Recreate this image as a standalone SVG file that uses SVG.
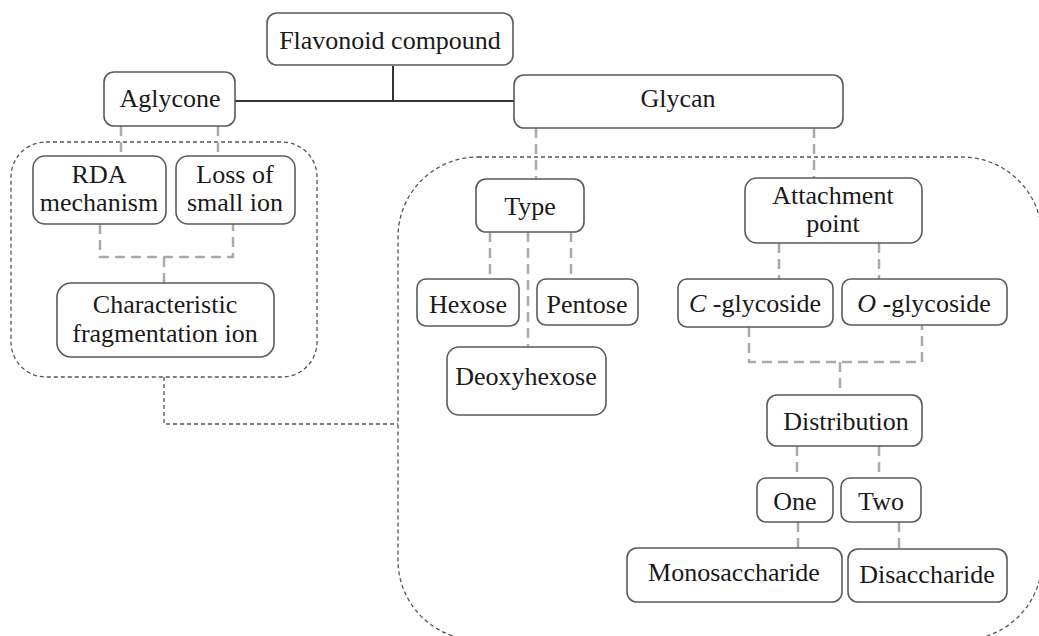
<svg xmlns="http://www.w3.org/2000/svg" width="1039" height="636" viewBox="0 0 1039 636">
<style>
  .box { fill: #fff; stroke: #5a5a5a; stroke-width: 1.6; }
  .t { font-family: "Liberation Serif", "Times New Roman", serif; font-size: 26px; fill: #1a1a1a; text-anchor: middle; }
  .region { fill: none; stroke: #555; stroke-width: 1.3; stroke-dasharray: 4 3; }
  .dash { fill: none; stroke: #aaa; stroke-width: 2.5; stroke-dasharray: 10 6; }
  .solid { fill: none; stroke: #333; stroke-width: 2; }
</style>
<rect width="1039" height="636" fill="#fff"/>
<g id="regions">
  <rect class="region" x="11" y="142" width="306" height="235" rx="35" ry="35"/>
  <rect class="region" x="398" y="157" width="644" height="483" rx="80" ry="80"/>
</g>
<g id="connectors">
  <path class="solid" d="M393 66 V101 M235 101 H514"/>
  <path class="region" d="M164 377 V424 H398"/>
  <path class="dash" d="M121 126 V156 M218 126 V156"/>
  <path class="dash" d="M100 224 V257 H233 V224 M164 257 V283"/>
  <path class="dash" d="M536 128 V179 M814 128 V178"/>
  <path class="dash" d="M490 232 V279 M528 232 V347 M571 232 V279"/>
  <path class="dash" d="M779 243 V279 M879 243 V279"/>
  <path class="dash" d="M749 327 V362 H922 V325 M840 362 V395"/>
  <path class="dash" d="M797 446 V478 M879 446 V478"/>
  <path class="dash" d="M798 522 V548 M899 522 V549"/>
</g>
<g id="flavonoid">
  <rect class="box" x="267" y="13" width="246" height="52" rx="10"/>
  <text class="t" x="390" y="49">Flavonoid compound</text>
</g>
<g id="aglycone">
  <rect class="box" x="104" y="72" width="131" height="54" rx="10"/>
  <text class="t" x="170" y="107">Aglycone</text>
</g>
<g id="glycan">
  <rect class="box" x="514" y="75" width="329" height="53" rx="10"/>
  <text class="t" x="678" y="107">Glycan</text>
</g>
<g id="rda">
  <rect class="box" x="33" y="156" width="133" height="68" rx="12"/>
  <text class="t" x="99" y="183">RDA</text>
  <text class="t" x="99" y="211">mechanism</text>
</g>
<g id="loss">
  <rect class="box" x="176" y="156" width="119" height="68" rx="12"/>
  <text class="t" x="235" y="183">Loss of</text>
  <text class="t" x="235" y="211">small ion</text>
</g>
<g id="characteristic">
  <rect class="box" x="57" y="283" width="217" height="74" rx="14"/>
  <text class="t" x="165" y="313">Characteristic</text>
  <text class="t" x="165" y="342">fragmentation ion</text>
</g>
<g id="type">
  <rect class="box" x="476" y="179" width="108" height="53" rx="10"/>
  <text class="t" x="530" y="215">Type</text>
</g>
<g id="attachment">
  <rect class="box" x="745" y="178" width="177" height="65" rx="12"/>
  <text class="t" x="833" y="204">Attachment</text>
  <text class="t" x="833" y="232">point</text>
</g>
<g id="hexose">
  <rect class="box" x="417" y="279" width="102" height="47" rx="9"/>
  <text class="t" x="468" y="313">Hexose</text>
</g>
<g id="pentose">
  <rect class="box" x="537" y="279" width="101" height="46" rx="9"/>
  <text class="t" x="587" y="313">Pentose</text>
</g>
<g id="deoxyhexose">
  <rect class="box" x="447" y="347" width="159" height="68" rx="12"/>
  <text class="t" x="526" y="385">Deoxyhexose</text>
</g>
<g id="c-glycoside">
  <rect class="box" x="678" y="279" width="155" height="48" rx="9"/>
  <text class="t" x="755" y="312"><tspan font-style="italic">C</tspan> -glycoside</text>
</g>
<g id="o-glycoside">
  <rect class="box" x="842" y="279" width="165" height="46" rx="9"/>
  <text class="t" x="924" y="312"><tspan font-style="italic">O</tspan> -glycoside</text>
</g>
<g id="distribution">
  <rect class="box" x="767" y="395" width="155" height="51" rx="10"/>
  <text class="t" x="846" y="430">Distribution</text>
</g>
<g id="one">
  <rect class="box" x="757" y="478" width="76" height="44" rx="9"/>
  <text class="t" x="795" y="510">One</text>
</g>
<g id="two">
  <rect class="box" x="841" y="478" width="80" height="44" rx="9"/>
  <text class="t" x="881" y="510">Two</text>
</g>
<g id="monosaccharide">
  <rect class="box" x="627" y="548" width="215" height="54" rx="10"/>
  <text class="t" x="734" y="581">Monosaccharide</text>
</g>
<g id="disaccharide">
  <rect class="box" x="848" y="549" width="159" height="53" rx="10"/>
  <text class="t" x="927" y="583">Disaccharide</text>
</g>
</svg>
